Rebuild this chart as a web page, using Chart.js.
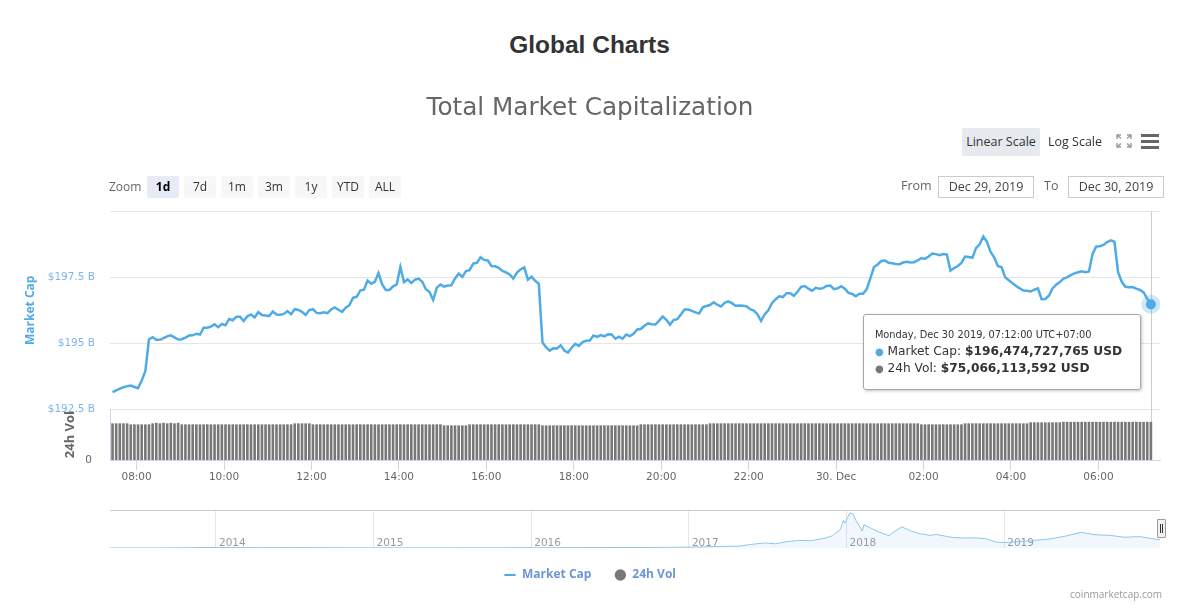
<!DOCTYPE html>
<html><head><meta charset="utf-8">
<script src="https://cdn.jsdelivr.net/npm/chart.js@4.4.1/dist/chart.umd.min.js"></script>
<style>
html,body{margin:0;padding:0;background:#fff;width:1187px;height:614px;overflow:hidden;font-family:'Open Sans',sans-serif;}
.abs{position:absolute;}
#pageTitle{left:0;width:1179px;top:30px;text-align:center;font-weight:bold;font-size:24.5px;font-family:'Liberation Sans',Arial,sans-serif;color:#333;line-height:30px;}
.zlab{left:109px;top:176px;line-height:22px;font-size:12px;color:#666;}
.zbtn{position:absolute;top:176px;width:32px;height:22px;line-height:22px;text-align:center;background:#f7f7f7;border-radius:2px;font-size:12px;color:#333;}
.zbtn.sel{background:#e6ebf5;font-weight:bold;color:#000;}
#linBtn{left:962px;top:128px;width:78px;height:28px;line-height:28px;text-align:center;background:#e6e9ee;border-radius:2px;font-size:12.5px;color:#333;}
#logBtn{left:1044px;top:128px;width:62px;height:28px;line-height:28px;text-align:center;font-size:12.5px;color:#333;}
.lbl{font-size:12.5px;color:#666;line-height:22px;top:175px;}
.dbox{top:176px;width:94px;height:20px;line-height:20px;border:1px solid #ccc;text-align:center;font-size:12.5px;color:#444;}
.hb{left:1141px;width:18px;height:3px;background:#666;}
#credit{right:25px;top:587px;font-size:10px;color:#999;line-height:14px;}
#tt{display:none;background:rgba(255,255,255,0.96);border:1px solid #a8a8a8;box-shadow:1px 1px 3px rgba(0,0,0,0.25);border-radius:3px;padding:12px 18px 12px 11px;color:#333;white-space:nowrap;z-index:10;font-family:'DejaVu Sans',sans-serif;}
#tt .t{font-size:9.8px;line-height:16px;}
#tt .r{font-size:12.2px;line-height:16px;}
#handle{left:1157px;top:519px;width:7px;height:17px;background:#f2f2f2;border:1px solid #999;border-radius:1px;z-index:5;}
#handle i{position:absolute;top:4px;width:1px;height:9px;background:#333;}
</style>
</head>
<body>
<div id="pageTitle" class="abs">Global Charts</div>

<canvas id="main" class="abs" style="left:0;top:80px" width="1187" height="511"></canvas>
<canvas id="nav" class="abs" style="left:0;top:505px" width="1187" height="50"></canvas>

<div id="linBtn" class="abs">Linear Scale</div>
<div id="logBtn" class="abs">Log Scale</div>
<svg class="abs" style="left:1116px;top:134px" width="16" height="14" viewBox="0 0 16 14">
  <g stroke="#999" stroke-width="1.4" fill="none">
    <path d="M1 5V1H5M1 1L5 4.5"/><path d="M15 5V1H11M15 1L11 4.5"/>
    <path d="M1 9V13H5M1 13L5 9.5"/><path d="M15 9V13H11M15 13L11 9.5"/>
  </g>
</svg>
<div class="abs hb" style="top:134px"></div>
<div class="abs hb" style="top:140px"></div>
<div class="abs hb" style="top:146px"></div>

<div class="abs zlab">Zoom</div>
<div class="zbtn sel" style="left:147px">1d</div>
<div class="zbtn" style="left:184px">7d</div>
<div class="zbtn" style="left:221px">1m</div>
<div class="zbtn" style="left:258px">3m</div>
<div class="zbtn" style="left:295px">1y</div>
<div class="zbtn" style="left:332px">YTD</div>
<div class="zbtn" style="left:369px">ALL</div>

<div class="abs lbl" style="left:901px">From</div>
<div class="abs dbox" style="left:938px">Dec 29, 2019</div>
<div class="abs lbl" style="left:1044px">To</div>
<div class="abs dbox" style="left:1068px">Dec 30, 2019</div>

<div id="handle" class="abs"><i style="left:2px"></i><i style="left:4px"></i></div>
<div id="credit" class="abs">coinmarketcap.com</div>
<div id="tt" class="abs"></div>

<script>
// ---------- data ----------
// 5-minute samples, starting Dec 29 2019 07:27 (UTC+07:00); x = minutes since Dec 29 00:00
const startMinute = 447;
const stepMinutes = 5;

// Total market cap, billions USD
const capValues = [
 193.14,193.21,193.28,193.33,193.37,193.39,193.34,193.29,193.58,193.94,
 195.14,195.23,195.13,195.13,195.19,195.26,195.30,195.22,195.14,195.15,
 195.21,195.29,195.30,195.36,195.33,195.59,195.59,195.63,195.72,195.61,
 195.73,195.68,195.92,195.87,196.00,196.00,195.84,196.02,196.09,195.98,
 196.18,196.07,196.05,196.03,196.20,196.09,196.08,196.11,196.22,196.10,
 196.29,196.26,196.19,196.07,196.26,196.29,196.15,196.14,196.17,196.14,
 196.28,196.36,196.27,196.19,196.35,196.44,196.72,196.76,197.00,197.03,
 197.38,197.26,197.33,197.66,197.23,197.02,197.02,197.16,197.23,197.89,
 197.32,197.42,197.28,197.41,197.45,197.33,197.05,196.94,196.64,197.11,
 197.23,197.15,197.19,197.20,197.46,197.64,197.52,197.74,197.77,198.02,
 198.05,198.26,198.16,198.14,197.93,197.92,197.86,197.74,197.69,197.61,
 197.45,197.68,197.80,197.88,197.41,197.52,197.37,197.25,195.03,194.84,
 194.72,194.81,194.80,194.92,194.72,194.64,194.83,194.98,194.90,195.04,
 195.09,195.10,195.29,195.24,195.31,195.26,195.34,195.33,195.17,195.25,
 195.17,195.33,195.27,195.36,195.52,195.54,195.66,195.75,195.72,195.71,
 195.86,196.01,195.89,195.70,195.88,195.91,196.09,196.28,196.28,196.23,
 196.17,196.13,196.36,196.41,196.45,196.55,196.46,196.39,196.53,196.59,
 196.52,196.42,196.43,196.42,196.40,196.29,196.24,196.10,195.85,196.10,
 196.25,196.52,196.67,196.78,196.75,196.90,196.90,196.80,196.95,197.14,
 197.17,197.07,196.99,197.10,197.07,197.09,197.17,197.19,197.05,197.08,
 197.16,197.07,196.91,196.87,196.78,196.88,196.88,197.05,197.46,197.89,
 197.99,198.12,198.14,198.05,198.03,198.01,198.00,198.06,198.09,198.06,
 198.07,198.14,198.23,198.20,198.29,198.40,198.38,198.34,198.38,198.36,
 197.75,197.85,197.93,198.05,198.29,198.27,198.24,198.61,198.75,199.05,
 198.85,198.46,198.26,197.92,197.89,197.50,197.39,197.28,197.17,197.08,
 197.00,196.99,196.96,197.03,197.08,196.67,196.68,196.80,197.08,197.22,
 197.32,197.45,197.50,197.58,197.65,197.69,197.73,197.69,197.72,198.39,
 198.67,198.68,198.73,198.84,198.90,198.85,197.69,197.33,197.14,197.12,
 197.13,197.07,197.02,196.93,196.68,196.474727765
];

// 24h volume, billions USD
const volValues = [
 72,72,72,72,72, 70,70,70,70,70,70,
 72,73,72,73,72,73,72,73,
 70,70,70,70,70,70,70,70,70,70,70,70,70,70,70,70,70,70,70,70,70,70,70,70,70,70,70,70,70,70,70,
 72,72,72,72,72,
 70,70,70,70,70,70,70,70,70,70,70,70,70,70,70,70,70,70,70,70,70,70,70,70,70,70,70,70,70,70,70,70,70,70,70,70,
 68,68,68,68,68,68,68,
 70,70,70,70,70,70,70,70,70,70,70,70,70,70,70,70,70,70,70,70,
 68,68,68,68,68,68,68,68,68,68,68,68,68,68,68,68,
 68,68,68,68,68,68,68,68,68,68,68,
 70,70,70,70,70,70,70,70,70,70,70,70,70,70,70,70,70,70,70,
 72,72,72,72,72,72,72,72,72,72,72,72,72,72,72,72,72,72,72,72,72,72,72,72,72,72,72,72,72,
 72,72,72,72,72,72,72,72,72,72,72,72,72,72,72,72,72,72,72,72,72,72,72,72,72,72,72,72,72,
 70,70,70,70,70,70,70,70,70,70,70,70,
 72,72,72,72,72,72,72,72,72,72,72,72,72,72,72,72,72,72,
 74,74,74,74,74,74,74,74,74,
 75,75,75,75,75,75,75,75,75,75,75,75,75,75,75,75,75,75,75,75,75,75,75,75,
 75.066113592
];

// x axis range (minutes since Dec 29 00:00) and ticks
const xMin = 443.5, xMax = 1884.5;
const xTickMinutes = [480,600,720,840,960,1080,1200,1320,1440,1560,1680,1800];
const xTickLabels = ['08:00','10:00','12:00','14:00','16:00','18:00','20:00','22:00','30. Dec','02:00','04:00','06:00'];

// market cap axis
const capMin = 192.5, capMax = 200;
const capTicks = [192.5,195,197.5,200];
const capTickLabels = ['$192.5 B','$195 B','$197.5 B',''];
// volume axis
const volMin = 0, volMax = 100;
const volTicks = [0];
const volTickLabels = ['0'];

// navigator: whole history (year, billions USD)
const navYears = [2013.33,2013.6,2013.85,2013.93,2014.02,2014.15,2014.3,2014.5,2014.7,2014.9,2015.0,2015.2,2015.5,2015.8,2015.95,2016.1,2016.3,2016.44,2016.7,2016.9,
 2017.01,2017.32,2017.39,2017.48,2017.55,2017.62,2017.70,2017.77,2017.86,2017.91,2017.96,2017.98,2017.99,2018.02,2018.04,2018.06,2018.10,2018.11,2018.15,2018.19,
 2018.27,2018.30,2018.35,2018.41,2018.46,2018.53,2018.57,2018.67,2018.74,2018.81,2018.88,2018.95,2019.00,2019.05,2019.12,2019.19,2019.29,2019.38,2019.49,2019.57,
 2019.67,2019.76,2019.86,2019.93,2019.99];
const navValues = [1.5,1.2,6,14,12,9,7,8,6,5,5,4,4.5,5.5,6.5,8,9,12,13,16,
 20,45,83,120,100,150,180,170,230,290,440,650,590,830,810,650,400,550,480,400,
 290,380,500,400,340,300,320,250,235,240,220,140,130,140,160,180,215,275,370,315,
 300,255,270,225,196];
const navMin = 2013.328, navMax = 2019.988;
const navYearTicks = [2014,2015,2016,2017,2018,2019];
const navYearLabels = ['2014','2015','2016','2017','2018','2019'];

// ---------- styles ----------
const capColor = '#4fabe5';
const volColor = '#777777';
const FONT = 'Open Sans';
const HCFONT = 'DejaVu Sans';

const capPoints = capValues.map((v, i) => ({x: startMinute + i * stepMinutes, y: v}));
const volPoints = volValues.map((v, i) => ({x: startMinute + i * stepMinutes, y: v}));

const dayNames = ['Sunday','Monday','Tuesday','Wednesday','Thursday','Friday','Saturday'];
const monNames = ['Jan','Feb','Mar','Apr','May','Jun','Jul','Aug','Sep','Oct','Nov','Dec'];
function fmtTime(minute) {
  const d = new Date(Date.UTC(2019, 11, 29) + minute * 60000);
  const p = n => String(n).padStart(2, '0');
  return dayNames[d.getUTCDay()] + ', ' + monNames[d.getUTCMonth()] + ' ' + d.getUTCDate() + ' ' + d.getUTCFullYear() +
    ', ' + p(d.getUTCHours()) + ':' + p(d.getUTCMinutes()) + ':00 UTC+07:00';
}
function fmtUSD(b) {
  return '$' + Math.round(b * 1e9).toLocaleString('en-US') + ' USD';
}

function externalTooltip(context) {
  const {chart, tooltip} = context;
  const el = document.getElementById('tt');
  if (!tooltip.opacity || !tooltip.dataPoints || !tooltip.dataPoints.length) { el.style.display = 'none'; return; }
  const pts = tooltip.dataPoints.slice().sort((a, b) => a.datasetIndex - b.datasetIndex);
  const anchor = pts[0];
  let html = '<div class="t">' + fmtTime(anchor.parsed.x) + '</div>';
  pts.forEach(p => {
    const c = p.datasetIndex === 0 ? capColor : volColor;
    html += '<div class="r"><span style="color:' + c + ';font-size:10px">\u25CF</span> ' + p.dataset.label +
      ': <b>' + fmtUSD(p.parsed.y) + '</b></div>';
  });
  el.innerHTML = html;
  el.style.display = 'block';
  const cv = chart.canvas;
  el.style.left = (cv.offsetLeft + anchor.element.x - 288) + 'px';
  el.style.top = (cv.offsetTop + anchor.element.y + 10) + 'px';
}

const crosshair = {
  id: 'crosshair',
  beforeDatasetsDraw(chart) {
    const act = chart.getActiveElements();
    if (!act.length) return;
    const x = Math.round(act[0].element.x) + 0.5;
    const ctx = chart.ctx;
    ctx.save();
    ctx.strokeStyle = '#cccccc';
    ctx.lineWidth = 1;
    ctx.beginPath();
    ctx.moveTo(x, chart.chartArea.top);
    ctx.lineTo(x, chart.chartArea.bottom);
    ctx.stroke();
    ctx.restore();
  }
};

const mainChart = new Chart(document.getElementById('main'), {
  data: {
    datasets: [
      {type: 'line', label: 'Market Cap', data: capPoints, yAxisID: 'yCap', order: 0,
       borderColor: capColor, borderWidth: 2.5, tension: 0, pointRadius: 0,
       pointHoverRadius: 5, pointHoverBackgroundColor: capColor,
       pointHoverBorderColor: 'rgba(79,171,229,0.28)', pointHoverBorderWidth: 9,
       backgroundColor: capColor},
      {type: 'bar', label: '24h Vol', data: volPoints, yAxisID: 'yVol', order: 1,
       backgroundColor: volColor, hoverBackgroundColor: volColor, borderWidth: 0,
       barPercentage: 0.72, categoryPercentage: 1.0}
    ]
  },
  plugins: [crosshair],
  options: {
    responsive: false, animation: false, events: [],
    layout: {padding: {left: 20, right: 27, top: 0, bottom: 0}},
    plugins: {
      title: {display: true, text: 'Total Market Capitalization', color: '#666',
        font: {family: HCFONT, size: 24.7, weight: 'normal'}, padding: {top: 13.4, bottom: 88.4}},
      legend: {
        position: 'bottom',
        labels: {
          usePointStyle: true, boxHeight: 8, padding: 23,
          color: '#6b96d6', font: {family: FONT, size: 12, weight: 'bold'},
          generateLabels(chart) {
            const items = Chart.defaults.plugins.legend.labels.generateLabels(chart);
            items.forEach(it => {
              if (it.datasetIndex === 0) { it.pointStyle = 'line'; it.strokeStyle = capColor; it.lineWidth = 2; }
              else { it.pointStyle = 'circle'; it.fillStyle = volColor; it.strokeStyle = volColor; it.lineWidth = 0; }
            });
            return items;
          }
        }
      },
      tooltip: {enabled: false, mode: 'index', intersect: false, external: externalTooltip}
    },
    scales: {
      x: {
        type: 'linear', min: xMin, max: xMax, offset: false,
        afterBuildTicks: s => { s.ticks = xTickMinutes.map(v => ({value: v})); },
        afterFit: s => { s.height = 86; },
        grid: {offset: false, drawOnChartArea: false, drawTicks: true, tickLength: 10, color: '#ccd6eb'},
        border: {display: true, color: '#ccd6eb', width: 1},
        ticks: {autoSkip: false, maxRotation: 0, padding: 1, color: '#666', font: {family: HCFONT, size: 10.5},
          callback: (v, i) => xTickLabels[i]}
      },
      yVol: {
        type: 'linear', position: 'left', stack: 'panes', stackWeight: 51,
        min: volMin, max: volMax,
        afterBuildTicks: s => { s.ticks = volTicks.map(v => ({value: v})); },
        afterFit: s => { s.width = 90; },
        grid: {display: false, drawTicks: false},
        border: {display: true, color: '#ccd6eb', width: 1},
        ticks: {padding: 18, color: '#666', font: {family: HCFONT, size: 10.5}, callback: (v, i) => volTickLabels[i]},
        title: {display: true, text: '24h Vol', color: '#666', font: {family: FONT, size: 13, weight: 'bold'},
          padding: {top: 42, bottom: 0}}
      },
      yCap: {
        type: 'linear', position: 'left', stack: 'panes', stackWeight: 198,
        min: capMin, max: capMax,
        afterBuildTicks: s => { s.ticks = capTicks.map(v => ({value: v})); },
        afterFit: s => { s.width = 90; },
        grid: {color: '#e6e6e6', drawTicks: false},
        border: {display: false},
        ticks: {padding: 15, color: '#7cb5ec', font: {family: HCFONT, size: 10.5}, callback: (v, i) => capTickLabels[i]},
        title: {display: true, text: 'Market Cap', color: capColor, font: {family: FONT, size: 12, weight: 'bold'},
          padding: {top: 3, bottom: 0}}
      }
    }
  }
});

const lastIdx = capValues.length - 1;
const activeEls = [{datasetIndex: 0, index: lastIdx}, {datasetIndex: 1, index: lastIdx}];
mainChart.setActiveElements(activeEls);
mainChart.tooltip.setActiveElements(activeEls, {x: 0, y: 0});
mainChart.render();

// ---------- navigator ----------
new Chart(document.getElementById('nav'), {
  type: 'line',
  data: {datasets: [{data: navYears.map((t, i) => ({x: t, y: navValues[i]})),
    borderColor: '#8ec5ee', borderWidth: 1, backgroundColor: 'rgba(124,181,236,0.10)', fill: 'origin',
    pointRadius: 0, tension: 0}]},
  options: {
    responsive: false, animation: false, events: [],
    layout: {padding: {left: 110, right: 27, top: 5, bottom: 7}},
    plugins: {legend: {display: false}, tooltip: {enabled: false}},
    scales: {
      x: {type: 'linear', min: navMin, max: navMax,
        afterBuildTicks: s => { s.ticks = navYearTicks.map(v => ({value: v})); },
        afterFit: s => { s.height = 0; },
        grid: {color: '#e6e6e6', drawTicks: false},
        border: {display: false},
        ticks: {mirror: true, align: 'start', labelOffset: 3, padding: -2, color: '#999', font: {family: HCFONT, size: 10.5},
          callback: (v, i) => navYearLabels[i]}},
      y: {min: 0, max: 900,
        afterBuildTicks: s => { s.ticks = [{value: 900}]; },
        afterFit: s => { s.width = 0; },
        grid: {color: '#cccccc', drawTicks: false},
        border: {display: false},
        ticks: {display: false}}
    }
  }
});
</script>
</body></html>
